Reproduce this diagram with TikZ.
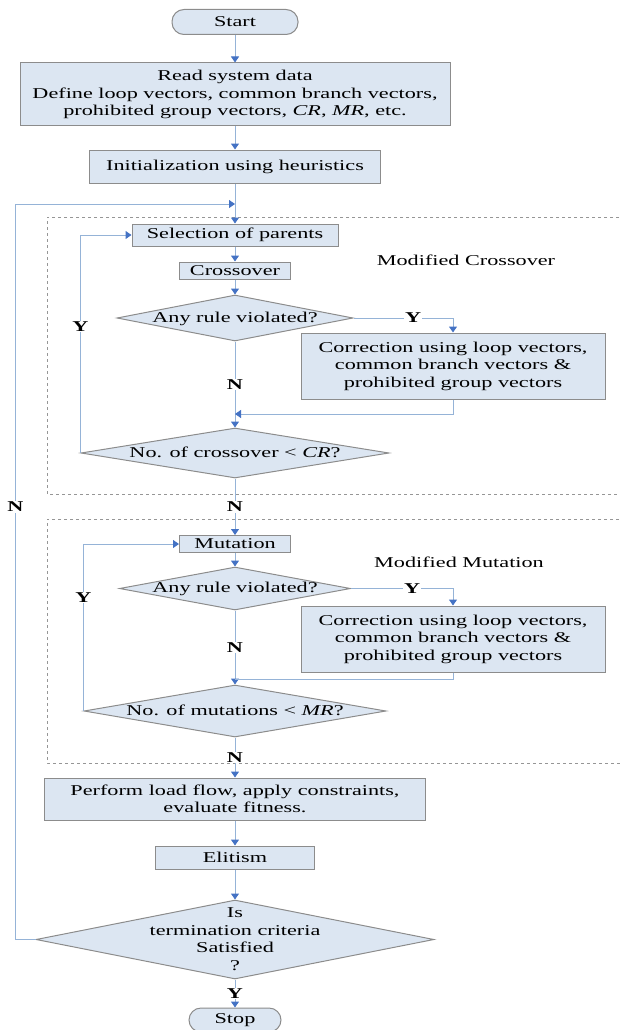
\documentclass[tikz,border=0pt]{standalone}
\usepackage{fontspec}
\setmainfont{Liberation Serif}[FakeStretch=1.48]
\usepackage{tikz}
\usetikzlibrary{
  arrows.meta,
  shapes.geometric,
  calc
}
\usepackage{xcolor}
\definecolor{boxfill}{RGB}{220, 230, 242}
\definecolor{boxline}{RGB}{140, 140, 140}
\definecolor{flowline}{RGB}{149, 179, 215}
\definecolor{tipblue}{RGB}{68,  114, 196}
\definecolor{frameclr}{RGB}{150, 150, 150}
% base font of the chart
\newcommand{\chartfont}{\fontsize{15}{17.5}\selectfont}
% text inside a decision: no height, so the diamond keeps its given size
\newcommand{\dectext}[1]{\smash{\raisebox{-0.3em}{\begin{tabular}{@{}c@{}}#1\end{tabular}}}}
\tikzset{
  % Boxes
  procbox/.style   = {rectangle, fill=boxfill, draw=boxline, line width=1pt,
                      inner sep=0pt, align=center},
  termbox/.style   = {procbox, rounded corners=12pt},
  decision/.style  = {diamond, fill=boxfill, draw=boxline, line width=1pt,
                      inner sep=0pt, aspect=10},
  % Connectors
  flow/.style      = {draw=flowline, line width=1pt,
                      -{Triangle[length=6pt, width=8pt, color=tipblue]}},
  flowplain/.style = {draw=flowline, line width=1pt},
  % Group frames
  groupframe/.style= {dashed, draw=frameclr, line width=0.8pt},
  % Labels
  yn/.style        = {font=\chartfont\bfseries, fill=white, inner sep=1pt},
  modlab/.style    = {inner sep=1pt},
}

\begin{document}
\begin{tikzpicture}[x=1pt, y=-1pt, font=\chartfont]
  \useasboundingbox (0,0) rectangle (619,1030);
  \pgfmathsetmacro{\xc}{235}
  \pgfmathsetmacro{\xr}{453}
  % Dashed frames
  \draw[groupframe] (625,217) -- (47,217) -- (47,494) -- (625,494);
  \draw[groupframe] (625,519) -- (47,519) -- (47,763) -- (625,763);
  \node[modlab] (modcross) at (466,260) {Modified Crossover};
  \node[modlab] (modmut) at (459,562) {Modified Mutation};
  % Main column
  \node[termbox, minimum width=126pt, minimum height=25pt] (start) at (\xc,22) {Start};
  \node[procbox, minimum width=430pt, minimum height=63pt] (read) at (\xc,94.5)
    {Read system data\\Define loop vectors, common branch vectors,\\prohibited group vectors, \textit{CR}, \textit{MR}, etc.};
  \node[procbox, minimum width=291pt, minimum height=33pt] (init) at (\xc,166.5) {Initialization using heuristics};
  % Crossover block
  \node[procbox, minimum width=206pt, minimum height=22pt] (sel) at (\xc,235) {Selection of parents};
  \node[procbox, minimum width=111pt, minimum height=17pt] (cross) at (\xc,270.5) {Crossover};
  \node[decision, minimum width=236pt, minimum height=46pt] (rule1) at (\xc,318) {\dectext{Any rule violated?}};
  \node[procbox, minimum width=304pt, minimum height=66pt] (corr1) at (\xr,366)
    {Correction using loop vectors,\\common branch vectors \&\\prohibited group vectors};
  \node[decision, minimum width=308pt, minimum height=50pt] (cnt1) at (\xc,453) {\dectext{No. of crossover < \textit{CR}?}};
  % Mutation block
  \node[procbox, minimum width=111pt, minimum height=17pt] (mut) at (\xc,544) {Mutation};
  \node[decision, minimum width=231pt, minimum height=43pt] (rule2) at (\xc,588.5) {\dectext{Any rule violated?}};
  \node[procbox, minimum width=304pt, minimum height=66pt] (corr2) at (\xr,639)
    {Correction using loop vectors,\\common branch vectors \&\\prohibited group vectors};
  \node[decision, minimum width=302pt, minimum height=52pt] (cnt2) at (\xc,711) {\dectext{No. of mutations < \textit{MR}?}};
  % Evaluation and end
  \node[procbox, minimum width=381pt, minimum height=42pt] (perf) at (\xc,799)
    {Perform load flow, apply constraints,\\evaluate fitness.};
  \node[procbox, minimum width=159pt, minimum height=23pt] (elit) at (\xc,857.5) {Elitism};
  \node[decision, minimum width=398pt, minimum height=79pt] (term) at (\xc,939.5)
    {\dectext{Is\\termination criteria\\Satisfied\\?}};
  \node[termbox, minimum width=92pt, minimum height=24pt] (stop) at (\xc,1020) {Stop};
  % Join points
  \coordinate (join1) at (\xc,204);
  \coordinate (merge1) at (\xc,414);
  \coordinate (merge2) at (\xc,679);
  % Connectors
  \draw[flow] (start) -- (read);
  \draw[flow] (read) -- (init);
  \draw[flow] (init) -- (sel);
  \draw[flow] (sel) -- (cross);
  \draw[flow] (cross) -- (rule1);
  \draw[flow] (rule1.east) -| node[yn, pos=0.3] {Y} (corr1.north);
  \draw[flow] (rule1.south) -- node[yn] {N} (cnt1.north);
  \draw[flow] (corr1.south) |- (merge1);
  \draw[flow] (cnt1.west) |- node[yn, pos=0.29] {Y} (sel.west);
  \draw[flow] (cnt1.south) -- node[yn] {N} (mut.north);
  \draw[flow] (mut) -- (rule2);
  \draw[flow] (rule2.east) -| node[yn, pos=0.3] {Y} (corr2.north);
  \draw[flow] (rule2.south) -- node[yn] {N} (cnt2.north);
  \draw[flowplain] (corr2.south) |- (merge2);
  \draw[flow] (cnt2.west) |- node[yn, pos=0.34] {Y} (mut.west);
  \draw[flow] (cnt2.south) -- node[yn] {N} (perf.north);
  \draw[flow] (perf) -- (elit);
  \draw[flow] (elit) -- (term);
  \draw[flow] (term.south) -- node[yn] {Y} (stop.north);
  \draw[flow] (term.west) -- ++(-20,0) |- node[yn, pos=0.294] {N} (join1);
\end{tikzpicture}
\end{document}
